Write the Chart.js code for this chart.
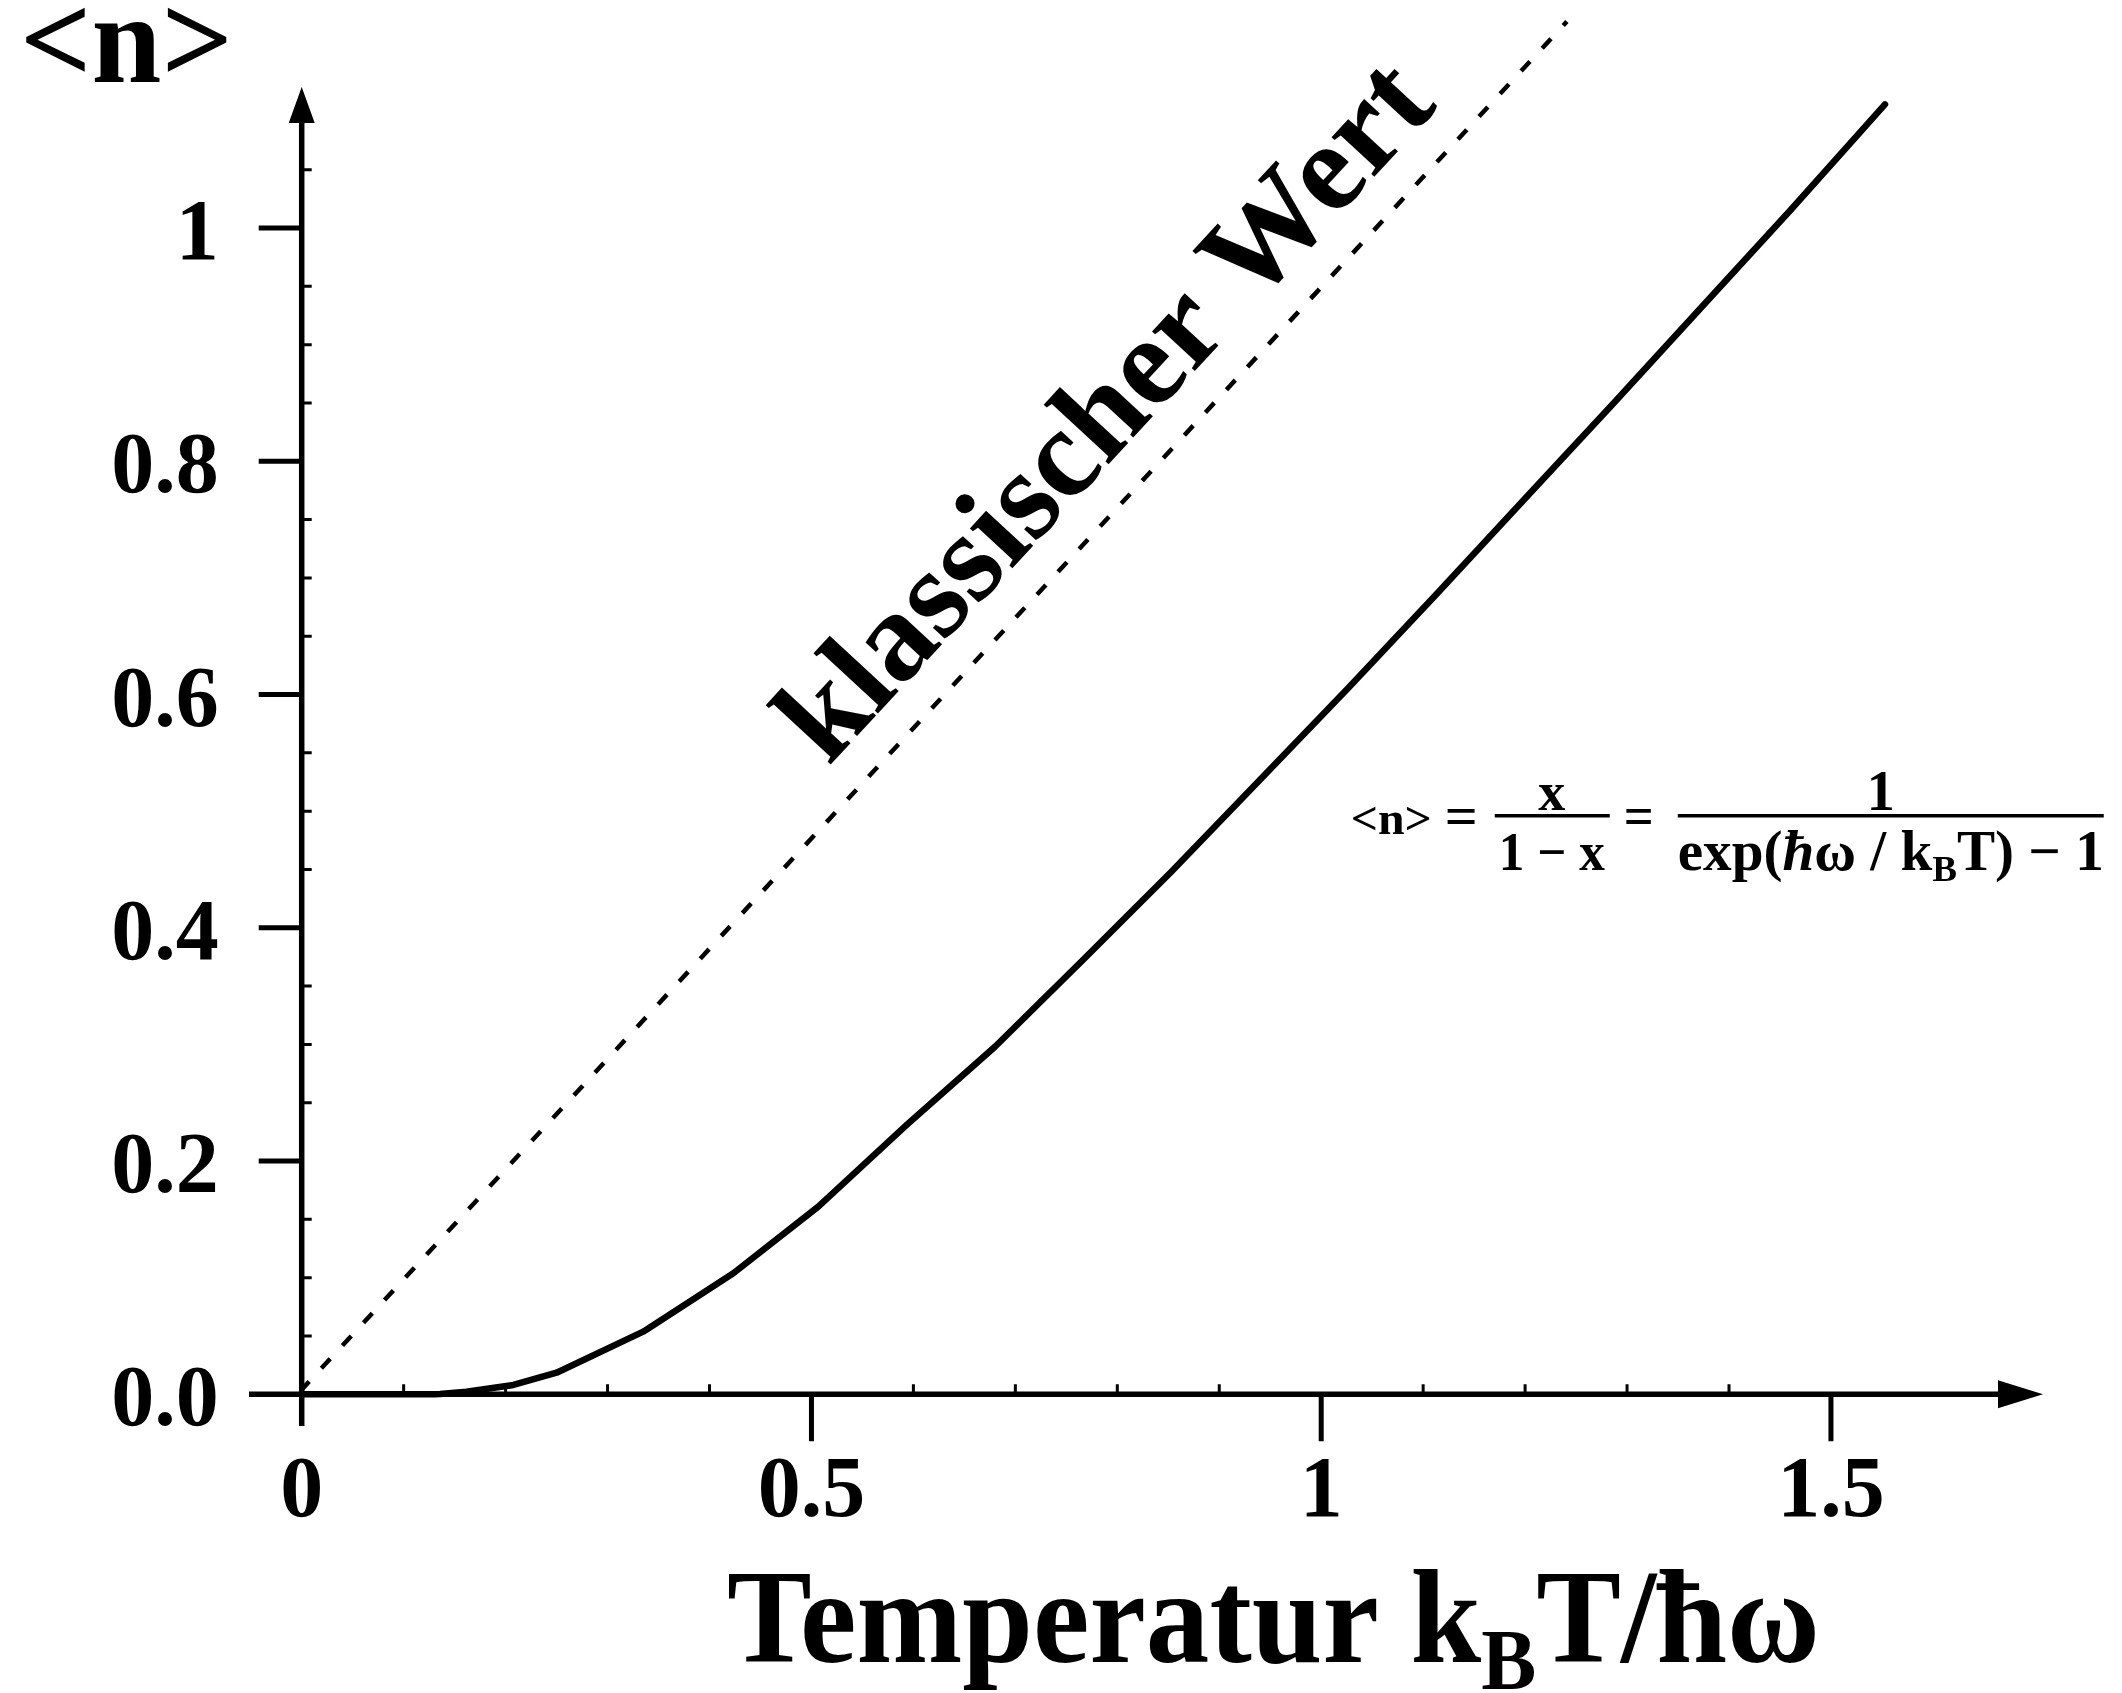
<!DOCTYPE html>
<html>
<head>
<meta charset="utf-8">
<script src="https://cdn.jsdelivr.net/npm/chart.js@4.4.1/dist/chart.umd.min.js"></script>
<style>
  html, body { margin: 0; padding: 0; background: #fff; }
  canvas { display: block; }
</style>
</head>
<body>
<canvas id="chart-occupation" width="2122" height="1693"></canvas>
<script>
// Bose-Einstein occupation
const temperature = [0, 0.13, 0.1356, 0.1615, 0.2076, 0.25, 0.335, 0.4234, 0.5067, 0.5934, 0.68, 0.767, 0.853, 0.94, 1.027, 1.113, 1.2, 1.287, 1.373, 1.46, 1.553];
const occupation  = [0, 0, 0.0003, 0.0022, 0.008, 0.0185, 0.0537, 0.1038, 0.1609, 0.231, 0.298, 0.373, 0.448, 0.527, 0.606, 0.686, 0.768, 0.85, 0.932, 1.015, 1.106];

// dotted "klassischer Wert" line
const classicT = [0, 1.241];
const classicN = [0.004, 1.177];

const xTickValues = [0, 0.5, 1, 1.5];
const xTickLabels = ['0', '0.5', '1', '1.5'];
const xMinorTicks = [0.1, 0.2, 0.3, 0.4, 0.6, 0.7, 0.8, 0.9, 1.1, 1.2, 1.3, 1.4];

const yTickValues = [0, 0.2, 0.4, 0.6, 0.8, 1];
const yTickLabels = ['0.0', '0.2', '0.4', '0.6', '0.8', '1'];
const yMinorTicks = [0.05, 0.1, 0.15, 0.25, 0.3, 0.35, 0.45, 0.5, 0.55, 0.65, 0.7, 0.75, 0.85, 0.9, 0.95, 1.05];

const SERIF = '"Liberation Serif", "Times New Roman", serif';

function fontOf(size, italic) {
	return (italic ? 'italic ' : '') + 'bold ' + size + 'px ' + SERIF;
}

// draws a row of text pieces (with subscripts), squeezed to a given width
function drawRuns(ctx, runs, left, baseline, size, width) {
	let total = 0;
	runs.forEach(r => {
		ctx.font = fontOf(r.sub ? size * 0.65 : size, r.it);
		total += ctx.measureText(r.t).width;
	});
	const sx = width ? width / total : 1;
	ctx.save();
	ctx.translate(left, baseline);
	ctx.scale(sx, 1);
	ctx.textAlign = 'left';
	ctx.textBaseline = 'alphabetic';
	let cx = 0;
	runs.forEach(r => {
		ctx.font = fontOf(r.sub ? size * 0.65 : size, r.it);
		ctx.fillText(r.t, cx, r.sub ? size * 0.2 : 0);
		cx += ctx.measureText(r.t).width;
	});
	ctx.restore();
}

function drawCentered(ctx, text, cx, baseline, size, width) {
	ctx.font = fontOf(size);
	const w = ctx.measureText(text).width;
	const W = width || w;
	drawRuns(ctx, [{t: text}], cx - W / 2, baseline, size, W);
}

const arrowAxes = {
	id: 'arrowAxes',
	beforeDatasetsDraw(chart) {
		const {ctx, scales: {x, y}} = chart;
		const x0 = x.getPixelForValue(0), y0 = y.getPixelForValue(0);
		const xLeft = x.getPixelForValue(x.min), xEnd = x.getPixelForValue(x.max);
		const yBottom = y.getPixelForValue(y.min), yTop = y.getPixelForValue(y.max);
		ctx.save();
		ctx.strokeStyle = '#000';
		ctx.fillStyle = '#000';
		ctx.lineCap = 'butt';

		// axis lines
		ctx.lineWidth = 5.5;
		ctx.beginPath();
		ctx.moveTo(xLeft, y0);
		ctx.lineTo(xEnd - 40, y0);
		ctx.moveTo(x0, yBottom);
		ctx.lineTo(x0, yTop + 30);
		ctx.stroke();

		// arrow heads
		ctx.beginPath();
		ctx.moveTo(xEnd, y0);
		ctx.lineTo(xEnd - 45, y0 - 14);
		ctx.lineTo(xEnd - 45, y0 + 14);
		ctx.closePath();
		ctx.moveTo(x0, yTop);
		ctx.lineTo(x0 - 13, yTop + 36);
		ctx.lineTo(x0 + 13, yTop + 36);
		ctx.closePath();
		ctx.fill();

		// major ticks
		ctx.lineWidth = 5;
		ctx.beginPath();
		xTickValues.forEach(v => {
			if (v === 0) return;
			const px = x.getPixelForValue(v);
			ctx.moveTo(px, y0);
			ctx.lineTo(px, y0 + 47);
		});
		yTickValues.forEach(v => {
			if (v === 0) return;
			const py = y.getPixelForValue(v);
			ctx.moveTo(x0, py);
			ctx.lineTo(x0 - 43, py);
		});
		ctx.stroke();

		// minor ticks
		ctx.lineWidth = 3;
		ctx.beginPath();
		xMinorTicks.forEach(v => {
			const px = x.getPixelForValue(v);
			ctx.moveTo(px, y0);
			ctx.lineTo(px, y0 - 10);
		});
		yMinorTicks.forEach(v => {
			const py = y.getPixelForValue(v);
			ctx.moveTo(x0, py);
			ctx.lineTo(x0 + 10, py);
		});
		ctx.stroke();

		// tick labels
		ctx.font = fontOf(86);
		ctx.textAlign = 'right';
		ctx.textBaseline = 'alphabetic';
		yTickValues.forEach((v, i) => {
			ctx.fillText(yTickLabels[i], x0 - 83, y.getPixelForValue(v) + 31);
		});
		ctx.textAlign = 'center';
		xTickValues.forEach((v, i) => {
			ctx.fillText(xTickLabels[i], x.getPixelForValue(v), y0 + 122);
		});
		ctx.restore();
	},
	afterDraw(chart) {
		const {ctx, scales: {x, y}} = chart;
		ctx.save();
		ctx.fillStyle = '#000';
		ctx.strokeStyle = '#000';

		// axis titles
		drawRuns(ctx, [{t: '<n>'}], 20, 82, 126, 213);
		drawRuns(ctx, [{t: 'Temperatur k'}, {t: 'B', sub: true}, {t: 'T/ħω'}], 727, 1662, 133, 1093);

		// "klassischer Wert" along the dotted line
		const p0x = x.getPixelForValue(classicT[0]), p0y = y.getPixelForValue(classicN[0]);
		const p1x = x.getPixelForValue(classicT[1]), p1y = y.getPixelForValue(classicN[1]);
		const ang = Math.atan2(p1y - p0y, p1x - p0x);
		const f = 0.842 / classicT[1];
		ctx.save();
		ctx.translate(p0x + f * (p1x - p0x), p0y + f * (p1y - p0y));
		ctx.rotate(ang);
		ctx.font = fontOf(127);
		ctx.textAlign = 'center';
		ctx.textBaseline = 'alphabetic';
		ctx.fillText('klassischer Wert', 0, -36);
		ctx.restore();

		// formula  <n> = x/(1-x) = 1/(exp(ħω/kBT)-1)
		const fl = x.getPixelForValue(1.029);
		const bar = y.getPixelForValue(0.496);
		drawRuns(ctx, [{t: '<n>'}], fl, bar + 18, 47, 81);
		drawRuns(ctx, [{t: '='}], fl + 94, bar + 18, 54, 33);
		ctx.lineWidth = 3.5;
		ctx.beginPath();
		ctx.moveTo(fl + 144, bar);
		ctx.lineTo(fl + 259, bar);
		ctx.moveTo(fl + 327, bar);
		ctx.lineTo(fl + 753, bar);
		ctx.stroke();
		drawCentered(ctx, 'x', fl + 201, bar - 6, 54);
		drawCentered(ctx, '1 − x', fl + 201, bar + 54, 54, 106);
		drawRuns(ctx, [{t: '='}], fl + 273, bar + 18, 54, 30);
		drawCentered(ctx, '1', fl + 530, bar - 6, 56);
		drawRuns(ctx, [{t: 'exp('}, {t: 'ħ', it: true}, {t: 'ω / k'}, {t: 'B', sub: true}, {t: 'T) − 1'}], fl + 327, bar + 54, 56, 426);
		ctx.restore();
	}
};

const ctx = document.getElementById('chart-occupation').getContext('2d');
const chart = new Chart(ctx, {
	type: 'scatter',
	data: {
		datasets: [
			{
				data: classicT.map((t, i) => ({x: t, y: classicN[i]})),
				showLine: true,
				borderColor: '#000',
				borderWidth: 4.5,
				borderDash: [13, 18],
				borderDashOffset: 2,
				pointRadius: 0,
				clip: false
			},
			{
				data: temperature.map((t, i) => ({x: t, y: occupation[i]})),
				showLine: true,
				borderColor: '#000',
				borderWidth: 6.5,
				borderCapStyle: 'round',
				borderJoinStyle: 'round',
				pointRadius: 0,
				tension: 0
			}
		]
	},
	options: {
		responsive: false,
		devicePixelRatio: 1,
		animation: false,
		layout: {
			padding: {left: 249, right: 79, top: 87, bottom: 267}
		},
		plugins: {
			legend: {display: false},
			tooltip: {enabled: false}
		},
		scales: {
			x: {type: 'linear', min: -0.0517, max: 1.708, display: false},
			y: {type: 'linear', min: -0.0272, max: 1.1209, display: false}
		}
	},
	plugins: [arrowAxes]
});
</script>
</body>
</html>
